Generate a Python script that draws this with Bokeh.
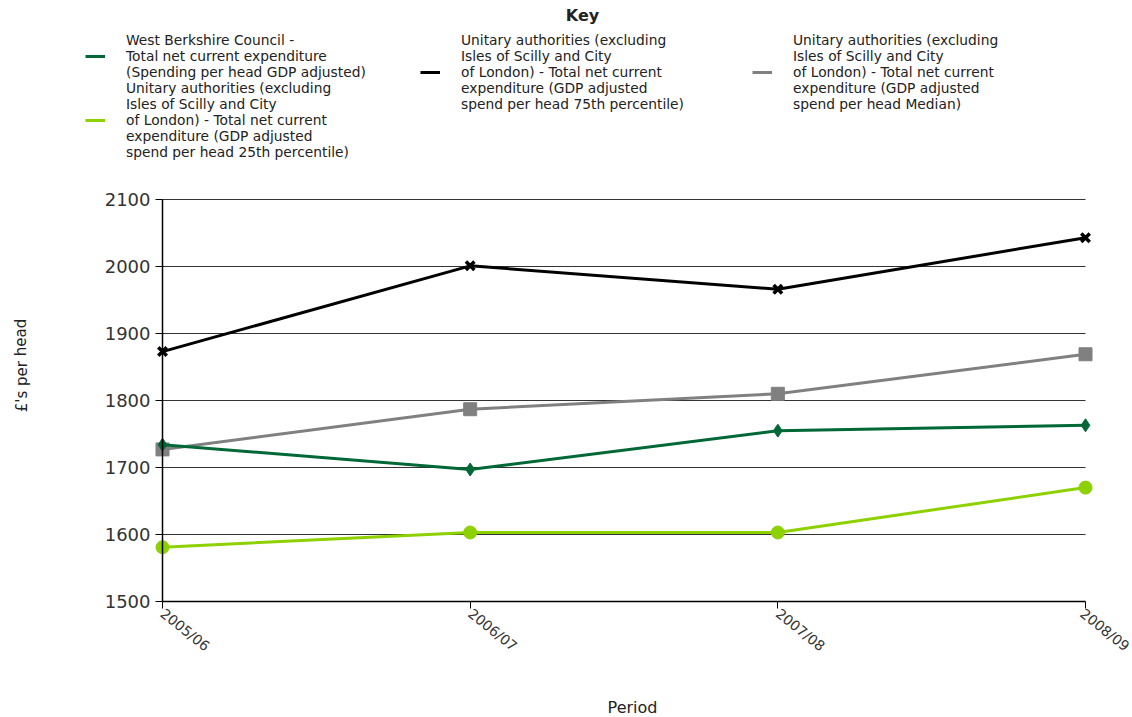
from bokeh.plotting import figure
from bokeh.models import Legend, LegendItem, FixedTicker, Label, ColumnDataSource
from bokeh.embed import file_html
from bokeh.resources import INLINE

periods = ["2005/06", "2006/07", "2007/08", "2008/09"]
west_berks = [1734, 1697, 1755, 1763]
ua_p25 = [1581, 1603, 1603, 1670]
ua_p75 = [1873, 2001, 1966, 2043]
ua_median = [1727, 1787, 1810, 1869]
y_ticks = [1500, 1600, 1700, 1800, 1900, 2000, 2100]

lab_wb = "West Berkshire Council -\nTotal net current expenditure\n(Spending per head GDP adjusted)"
lab_p25 = "Unitary authorities (excluding\nIsles of Scilly and City\nof London) - Total net current\nexpenditure (GDP adjusted\nspend per head 25th percentile)"
lab_p75 = "Unitary authorities (excluding\nIsles of Scilly and City\nof London) - Total net current\nexpenditure (GDP adjusted\nspend per head 75th percentile)"
lab_med = "Unitary authorities (excluding\nIsles of Scilly and City\nof London) - Total net current\nexpenditure (GDP adjusted\nspend per head Median)"

xs = list(range(len(periods)))
FONT = "DejaVu Sans"

# layout: the frame covers the whole canvas; the plotting area sits at these pixels
W, H = 1132, 717
PX_L, PX_R, PX_T, PX_B = 162, 1085, 199, 601
ux = (PX_R - PX_L) / (xs[-1] - xs[0])
uy = (PX_B - PX_T) / (y_ticks[-1] - y_ticks[0])
x_start = xs[0] - PX_L / ux
x_end = xs[-1] + (W - PX_R) / ux
y_start = y_ticks[0] - (H - PX_B) / uy
y_end = y_ticks[-1] + PX_T / uy

p = figure(width=W, height=H, output_backend="svg", toolbar_location=None,
           x_range=(x_start, x_end), y_range=(y_start, y_end),
           min_border=0)
p.outline_line_color = None
p.grid.visible = False

# horizontal grid lines across the data extent
p.segment(x0=[xs[0]] * (len(y_ticks) - 1), x1=[xs[-1]] * (len(y_ticks) - 1),
          y0=y_ticks[1:], y1=y_ticks[1:], line_color="#333333", line_width=1)

series = [
    (ua_p75, "#000000", "x", 12, lab_p75),
    (ua_median, "#808080", "square", 13, lab_med),
    (west_berks, "#006837", "diamond", 13, lab_wb),
    (ua_p25, "#8ED100", "circle", 13, lab_p25),
]
lines = {}
for vals, col, mk, sz, lab in series:
    src = ColumnDataSource(dict(x=xs, y=vals))
    r = p.line("x", "y", source=src, line_color=col, line_width=3)
    if mk == "x":
        p.scatter("x", "y", source=src, marker="x", size=sz, line_color=col, line_width=3.5)
    else:
        p.scatter("x", "y", source=src, marker=mk, size=sz, fill_color=col, line_color=col)
    lines[lab] = r

# axes placed at data locations
p.yaxis.fixed_location = xs[0]
p.xaxis.fixed_location = y_ticks[0]
p.yaxis.bounds = (y_ticks[0], y_ticks[-1])
p.xaxis.bounds = (xs[0], xs[-1])
p.yaxis.ticker = FixedTicker(ticks=y_ticks)
p.xaxis.ticker = FixedTicker(ticks=xs)
p.xaxis.major_label_overrides = {i: s for i, s in zip(xs, periods)}
for ax in (p.xaxis[0], p.yaxis[0]):
    ax.axis_line_color = "#000000"
    ax.axis_line_width = 1.5
    ax.major_tick_line_color = "#000000"
    ax.major_tick_in = 0
    ax.major_tick_out = 7
    ax.minor_tick_line_color = None
    ax.major_label_text_font = FONT
    ax.major_label_text_color = "#333333"
p.yaxis.major_label_text_font_size = "18px"
p.yaxis.major_label_standoff = 5
p.xaxis.major_label_text_font_size = "14px"
p.xaxis.major_label_orientation = -0.68
p.xaxis.major_label_standoff = 3

def screen_label(text, x, y_top, size, angle=0.0, bold=False):
    p.add_layout(Label(x=x, y=H - y_top, x_units="screen", y_units="screen",
                       text=text, angle=angle, text_align="center", text_baseline="middle",
                       text_font=FONT, text_font_size=size,
                       text_font_style="bold" if bold else "normal", text_color="#222222"))

screen_label("Period", 632, 707, "16px")
screen_label("£'s per head", 21, 365, "15px", angle=1.5708)
screen_label("Key", 582, 15, "16px", bold=True)

def make_legend(labels, x_left, y_bottom):
    leg = Legend(items=[LegendItem(label=l, renderers=[lines[l]]) for l in labels],
                 location=(x_left, H - y_bottom), padding=0, margin=0, spacing=0,
                 border_line_color=None, background_fill_alpha=0,
                 glyph_width=20, glyph_height=16, label_standoff=21,
                 label_text_font=FONT, label_text_font_size="13.8px",
                 label_text_line_height=1.0, label_text_color="#222222")
    p.add_layout(leg, "center")

make_legend([lab_wb, lab_p25], 85, 160)
make_legend([lab_p75], 420, 112)
make_legend([lab_med], 752, 112)

open("out.html", "w").write(file_html(p, INLINE))
